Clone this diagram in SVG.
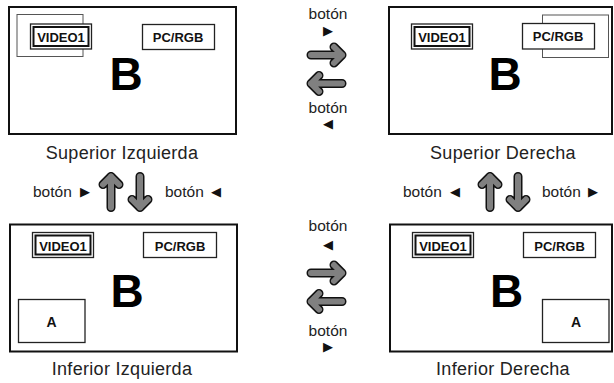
<svg xmlns="http://www.w3.org/2000/svg" xmlns:xlink="http://www.w3.org/1999/xlink" width="614" height="383" viewBox="0 0 614 383">
<style>
.frame{fill:#fff;stroke:#111;stroke-width:2}
.thin{fill:#fff;stroke:#555;stroke-width:1}
.box{fill:#fff;stroke:#222;stroke-width:1.3}
.vin{fill:none;stroke:#111;stroke-width:2}
.bl{font-family:"Liberation Sans",Arial,sans-serif;font-weight:bold;font-size:13px;text-anchor:middle;fill:#111}
.big{font-family:"Liberation Sans",Arial,sans-serif;font-weight:bold;font-size:46px;text-anchor:middle;fill:#000}
.a{font-family:"Liberation Sans",Arial,sans-serif;font-weight:bold;font-size:14px;text-anchor:middle;fill:#111}
.lbl{font-family:"Liberation Sans",Arial,sans-serif;font-size:18px;letter-spacing:0.3px;text-anchor:middle;fill:#222}
.bt{font-family:"Liberation Sans",Arial,sans-serif;font-size:15.5px;fill:#222}
.btm{font-family:"Liberation Sans",Arial,sans-serif;font-size:15.5px;fill:#222;text-anchor:middle}
.tri{font-family:"DejaVu Sans",sans-serif;font-size:13px;fill:#111}
.ao{fill:none;stroke:#111;stroke-width:9;stroke-linecap:round;stroke-linejoin:round}
.ai{fill:none;stroke:#808080;stroke-width:6;stroke-linecap:round;stroke-linejoin:round}
</style>
<defs>
<g id="arr">
<path class="ao" d="M-15.5,0 H15.5 M7.5,-8 L15.5,0 L7.5,8"/>
<path class="ai" d="M-15.5,0 H15.5 M7.5,-8 L15.5,0 L7.5,8"/>
</g>
</defs>

<g id="superior-izquierda">
<rect class="frame" x="9" y="7" width="227" height="127"/>
<rect class="thin" x="17" y="14.5" width="66" height="42"/>
<rect class="box" x="30.5" y="24" width="61" height="25"/>
<rect class="vin" x="33.5" y="27" width="55" height="19"/>
<text class="bl" x="61" y="42">VIDEO1</text>
<rect class="box" x="142.5" y="24.5" width="72" height="25"/>
<text class="bl" x="178" y="42">PC/RGB</text>
<text class="big" x="126" y="90">B</text>
<text class="lbl" x="122" y="159">Superior Izquierda</text>
</g>

<g id="superior-derecha">
<rect class="frame" x="389" y="7" width="223" height="127"/>
<rect class="thin" x="542.5" y="15" width="66" height="42.5"/>
<rect class="box" x="411.5" y="24" width="61" height="25"/>
<rect class="vin" x="414.5" y="27" width="55" height="19"/>
<text class="bl" x="442" y="42">VIDEO1</text>
<rect class="box" x="522.5" y="23.5" width="72" height="25.5"/>
<text class="bl" x="558" y="41">PC/RGB</text>
<text class="big" x="505" y="90">B</text>
<text class="lbl" x="503" y="159">Superior Derecha</text>
</g>

<g id="inferior-izquierda">
<rect class="frame" x="10" y="224.5" width="227" height="127"/>
<rect class="box" x="32.5" y="232.5" width="61" height="25"/>
<rect class="vin" x="35.5" y="235.5" width="55" height="19"/>
<text class="bl" x="63" y="250.5">VIDEO1</text>
<rect class="box" x="143.5" y="232.5" width="73" height="25"/>
<text class="bl" x="180" y="250.5">PC/RGB</text>
<text class="big" x="127" y="306.5">B</text>
<rect class="box" x="18.5" y="299.5" width="66.5" height="43"/>
<text class="a" x="51.5" y="326.5">A</text>
<text class="lbl" x="122" y="375">Inferior Izquierda</text>
</g>

<g id="inferior-derecha">
<rect class="frame" x="390" y="224.5" width="222" height="127"/>
<rect class="box" x="412.5" y="232.5" width="61" height="25"/>
<rect class="vin" x="415.5" y="235.5" width="55" height="19"/>
<text class="bl" x="443" y="250.5">VIDEO1</text>
<rect class="box" x="523.5" y="232.5" width="72" height="25"/>
<text class="bl" x="559.5" y="250.5">PC/RGB</text>
<text class="big" x="506.5" y="306.5">B</text>
<rect class="box" x="542.5" y="299.5" width="66.5" height="43"/>
<text class="a" x="576" y="326.5">A</text>
<text class="lbl" x="503" y="375">Inferior Derecha</text>
</g>

<g id="connectors">
<use xlink:href="#arr" transform="translate(326.5,55)"/>
<use xlink:href="#arr" transform="translate(326.5,83.5) rotate(180)"/>
<use xlink:href="#arr" transform="translate(326.5,273)"/>
<use xlink:href="#arr" transform="translate(326.5,301.5) rotate(180)"/>
<use xlink:href="#arr" transform="translate(111,192) rotate(-90)"/>
<use xlink:href="#arr" transform="translate(140,192) rotate(90)"/>
<use xlink:href="#arr" transform="translate(490,192) rotate(-90)"/>
<use xlink:href="#arr" transform="translate(518,192) rotate(90)"/>

<text class="btm"><tspan x="328" y="19.3">botón</tspan><tspan class="tri" x="328" y="34.7">▶</tspan></text>
<text class="btm"><tspan x="328" y="112.8">botón</tspan><tspan class="tri" x="328" y="128.4">◀</tspan></text>
<text class="btm"><tspan x="328" y="231">botón</tspan><tspan class="tri" x="328" y="249.2">◀</tspan></text>
<text class="btm"><tspan x="328" y="335.5">botón</tspan><tspan class="tri" x="328" y="351.2">▶</tspan></text>

<text class="bt" x="33" y="197">botón<tspan class="tri" x="80" y="196.4">▶</tspan></text>
<text class="bt" x="165" y="197">botón<tspan class="tri" x="211" y="196.4">◀</tspan></text>
<text class="bt" x="403" y="197">botón<tspan class="tri" x="450" y="196.4">◀</tspan></text>
<text class="bt" x="542" y="197">botón<tspan class="tri" x="588" y="196.4">▶</tspan></text>
</g>
</svg>
